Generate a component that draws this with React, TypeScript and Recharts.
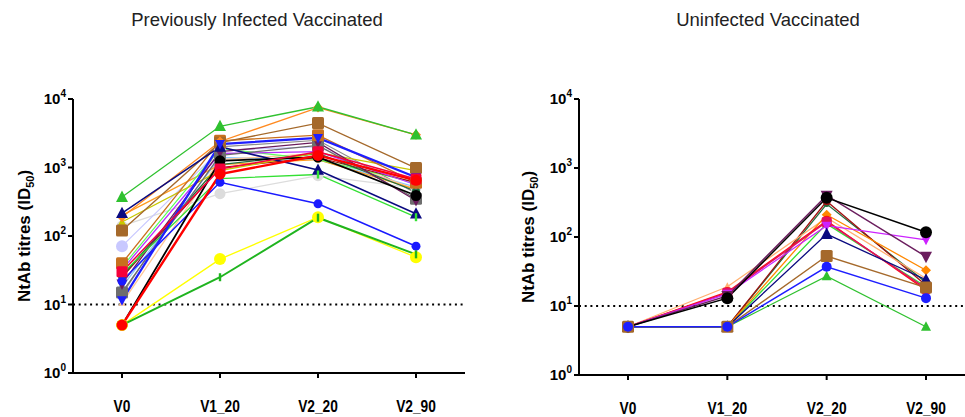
import React from 'react';
import { LineChart, Line, XAxis, YAxis, ReferenceLine } from 'recharts';

// visits on the x axis, titres per subject (one array per subject)
const visits = ['V0', 'V1_20', 'V2_20', 'V2_90'];
const yTicks = [1, 10, 100, 1000, 10000];
const threshold = 10;

const infectedTitres: number[][] = [
  [140, 415, 760, 500],
  [71, 1800, 2000, 550],
  [14, 2000, 2500, 420],
  [18, 1400, 1300, 515],
  [10.5, 1300, 1600, 480],
  [200, 1100, 1300, 480],
  [35, 1900, 1300, 600],
  [25, 1000, 1400, 600],
  [26, 1100, 1600, 450],
  [160, 900, 1650, 900],
  [32, 1600, 1700, 560],
  [15, 1500, 2100, 350],
  [20, 1700, 2330, 330],
  [40, 2450, 2960, 600],
  [120, 2300, 4450, 980],
  [190, 2400, 7500, 3000],
  [370, 4000, 7700, 3000],
  [215, 2000, 920, 211],
  [28, 690, 790, 188],
  [22, 610, 295, 71],
  [11.5, 2200, 2700, 720],
  [5, 1250, 1420, 390],
  [30, 950, 1700, 680],
  [5, 46, 188, 49],
  [5, 25, 185, 54],
  [5, 800, 1500, 650],
];

const uninfectedTitres: number[][] = [
  [5, 5, 300, 22],
  [5, 5, 330, 20],
  [5, 19, 190, 25],
  [5, 5, 155, 19],
  [5, 5, 210, 33],
  [5, 16, 172, 17],
  [5, 15.5, 165, 18],
  [5, 15, 146, 91],
  [5, 14, 400, 52],
  [5, 13, 370, 117],
  [5, 5, 110, 24],
  [5, 5, 27, 5],
  [5, 5, 53, 18.5],
  [5, 5, 37, 13],
];

type Style = { color: string; shape: string; size: number; width: number };

const infectedStyles: Style[] = [
  { color: '#dcdcdc', shape: 'circle', size: 5.5, width: 1.3 },
  { color: '#c8c8ff', shape: 'circle', size: 6, width: 1.2 },
  { color: '#8c8c8c', shape: 'circle', size: 3, width: 1.2 },
  { color: '#8cc8ff', shape: 'circle', size: 3, width: 1.3 },
  { color: '#ffc896', shape: 'triangle', size: 3.5, width: 1.3 },
  { color: '#ff9b1e', shape: 'circle', size: 3, width: 1.2 },
  { color: '#5cff5c', shape: 'triangle', size: 3, width: 1.2 },
  { color: '#a01010', shape: 'circle', size: 3, width: 1.2 },
  { color: '#1e6e3c', shape: 'circle', size: 4, width: 1.3 },
  { color: '#c8c800', shape: 'triangle', size: 4, width: 1.3 },
  { color: '#b832ff', shape: 'triangleDown', size: 4.5, width: 1.3 },
  { color: '#6e6e6e', shape: 'square', size: 6, width: 1.3 },
  { color: '#6a1b5a', shape: 'triangleDown', size: 5.5, width: 1.3 },
  { color: '#c8701e', shape: 'square', size: 6, width: 1.3 },
  { color: '#a5692b', shape: 'square', size: 6, width: 1.3 },
  { color: '#ff8a20', shape: 'diamond', size: 5, width: 1.3 },
  { color: '#2fc12f', shape: 'triangle', size: 6, width: 1.3 },
  { color: '#0a0a80', shape: 'triangle', size: 6, width: 1.5 },
  { color: '#33e033', shape: 'bar', size: 4, width: 1.3 },
  { color: '#1a1aff', shape: 'circle', size: 4.5, width: 1.5 },
  { color: '#1e1eff', shape: 'triangleDown', size: 5, width: 2.2 },
  { color: '#000000', shape: 'circle', size: 5.5, width: 1.8 },
  { color: '#f5003a', shape: 'square', size: 5.5, width: 1.5 },
  { color: '#ffff00', shape: 'circle', size: 6, width: 1.3 },
  { color: '#1fb41f', shape: 'bar', size: 4, width: 2 },
  { color: '#ff0000', shape: 'circle', size: 5.5, width: 2.4 },
];

const uninfectedStyles: Style[] = [
  { color: '#1e6e3c', shape: 'circle', size: 3, width: 1.3 },
  { color: '#a01010', shape: 'circle', size: 4, width: 1.3 },
  { color: '#ffb070', shape: 'triangle', size: 4, width: 1.3 },
  { color: '#33e033', shape: 'circle', size: 3, width: 1.3 },
  { color: '#ff8800', shape: 'diamond', size: 5, width: 1.3 },
  { color: '#ff1010', shape: 'circle', size: 5, width: 1.3 },
  { color: '#e0115f', shape: 'square', size: 5, width: 1.5 },
  { color: '#cc22ff', shape: 'triangleDown', size: 5, width: 1.2 },
  { color: '#6b1e5e', shape: 'triangleDown', size: 6, width: 1.5 },
  { color: '#000000', shape: 'circle', size: 6, width: 1.5 },
  { color: '#0a0a80', shape: 'triangle', size: 6, width: 1.3 },
  { color: '#2fc12f', shape: 'triangle', size: 5, width: 1.3 },
  { color: '#a5692b', shape: 'square', size: 6, width: 1.3 },
  { color: '#1e1eff', shape: 'circle', size: 5, width: 1.5 },
];

const buildRows = (titres: number[][]) =>
  visits.map((visit, i) => {
    const row: any = { visit };
    titres.forEach((s, j) => {
      row['s' + j] = s[i];
    });
    return row;
  });

const Marker = (props: any, style: Style, key: string) => {
  const { cx, cy } = props;
  if (cx == null || cy == null) return <g key={key} />;
  const s = style.size;
  const c = style.color;
  switch (style.shape) {
    case 'square':
      return <rect key={key} x={cx - s} y={cy - s} width={2 * s} height={2 * s} rx={1.5} fill={c} />;
    case 'triangle':
      return <polygon key={key} points={`${cx},${cy - s * 1.1} ${cx - s},${cy + s * 0.8} ${cx + s},${cy + s * 0.8}`} fill={c} />;
    case 'triangleDown':
      return <polygon key={key} points={`${cx},${cy + s * 1.1} ${cx - s},${cy - s * 0.8} ${cx + s},${cy - s * 0.8}`} fill={c} />;
    case 'diamond':
      return <polygon key={key} points={`${cx},${cy - s} ${cx + s},${cy} ${cx},${cy + s} ${cx - s},${cy}`} fill={c} />;
    case 'bar':
      return <rect key={key} x={cx - 1.2} y={cy - s} width={2.4} height={2 * s} fill={c} />;
    default:
      return <circle key={key} cx={cx} cy={cy} r={s} fill={c} />;
  }
};

const LogTick = (props: any) => {
  const { x, y, payload } = props;
  const exp = Math.round(Math.log10(payload.value));
  return (
    <text x={x} y={y} dy={5} textAnchor="end" fontFamily="Arial, 'Liberation Sans', sans-serif" fontWeight="bold" fontSize={15} fill="#000">
      10<tspan dy={-7} fontSize={10}>{exp}</tspan>
    </text>
  );
};

// condensed bold labels, squeezed horizontally since no narrow font is installed
const VisitTick = (props: any) => {
  const { x, y, payload } = props;
  return (
    <text
      transform={`translate(${x},${y + 32}) scale(0.86,1)`}
      textAnchor="middle"
      fontFamily="Arial, 'Liberation Sans', sans-serif"
      fontWeight="bold"
      fontSize={16}
      fill="#000"
    >
      {payload.value}
    </text>
  );
};

const Panel = ({ titres, styles, left, width, yWidth, right, xHeight }: any) => {
  const rows = buildRows(titres);
  return (
    <div style={{ position: 'absolute', left, top: 0 }}>
      <LineChart width={width} height={417} data={rows} margin={{ top: 99, right, bottom: 0, left: 0 }}>
        <XAxis
          dataKey="visit"
          height={xHeight}
          padding={{ left: 49, right: 49 }}
          stroke="#000"
          strokeWidth={2}
          tickSize={5}
          tick={<VisitTick />}
          interval={0}
        />
        <YAxis
          scale="log"
          domain={[1, 10000]}
          ticks={yTicks}
          width={yWidth}
          stroke="#000"
          strokeWidth={2}
          tickSize={5}
          tick={<LogTick />}
          allowDataOverflow
        />
        <ReferenceLine y={threshold} stroke="#000" strokeWidth={2} strokeDasharray="2 3.7" />
        {titres.map((_: number[], j: number) => (
          <Line
            key={'s' + j}
            dataKey={'s' + j}
            stroke={styles[j].color}
            strokeWidth={styles[j].width}
            isAnimationActive={false}
            activeDot={false}
            dot={(p: any) => Marker(p, styles[j], `s${j}-${p.index}`)}
          />
        ))}
      </LineChart>
    </div>
  );
};

export default function App() {
  const font = "Arial, 'Liberation Sans', sans-serif";
  return (
    <div style={{ position: 'absolute', left: 0, top: 0, width: 965, height: 417, overflow: 'hidden', background: '#fff' }}>
      <Panel titres={infectedTitres} styles={infectedStyles} left={0} width={480} yWidth={73} right={15} xHeight={44} />
      <Panel titres={uninfectedTitres} styles={uninfectedStyles} left={482} width={500} yWidth={97} right={7} xHeight={42} />
      <svg width={965} height={417} style={{ position: 'absolute', left: 0, top: 0, pointerEvents: 'none' }}>
        <text x={257} y={26} textAnchor="middle" fontFamily={font} fontSize={18.5} fill="#222">
          Previously Infected Vaccinated
        </text>
        <text x={768} y={26} textAnchor="middle" fontFamily={font} fontSize={18.5} fill="#222">
          Uninfected Vaccinated
        </text>
        <text transform="translate(30,236) rotate(-90)" textAnchor="middle" fontFamily={font} fontWeight="bold" fontSize={17} fill="#000">
          NtAb titres (ID<tspan dy={4} fontSize={11}>50</tspan><tspan dy={-4}>)</tspan>
        </text>
        <text transform="translate(534,237) rotate(-90)" textAnchor="middle" fontFamily={font} fontWeight="bold" fontSize={17} fill="#000">
          NtAb titres (ID<tspan dy={4} fontSize={11}>50</tspan><tspan dy={-4}>)</tspan>
        </text>
      </svg>
    </div>
  );
}
